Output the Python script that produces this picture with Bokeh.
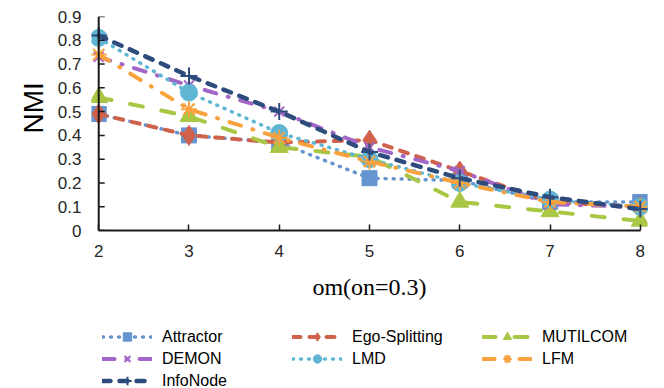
from bokeh.plotting import figure
from bokeh.layouts import column
from bokeh.models import Range1d, Legend, LegendItem, Title, FixedTicker, Span
from bokeh.embed import file_html
from bokeh.resources import INLINE

om = [2, 3, 4, 5, 6, 7, 8]
attractor = [0.49, 0.40, 0.37, 0.22, 0.21, 0.12, 0.12]
ego_splitting = [0.49, 0.40, 0.37, 0.38, 0.25, 0.12, 0.10]
mutilcom = [0.56, 0.48, 0.35, 0.31, 0.12, 0.08, 0.04]
demon = [0.73, 0.61, 0.50, 0.35, 0.25, 0.11, 0.10]
lmd = [0.81, 0.58, 0.41, 0.30, 0.20, 0.13, 0.10]
lfm = [0.74, 0.51, 0.39, 0.29, 0.20, 0.12, 0.10]
infonode = [0.82, 0.65, 0.50, 0.33, 0.22, 0.14, 0.09]

y_ticks = [0, 0.1, 0.2, 0.3, 0.4, 0.5, 0.6, 0.7, 0.8, 0.9]
x_ticks = [2, 3, 4, 5, 6, 7, 8]

series = [
    ("Attractor", attractor, "#6694D0", "1 7", 3.5, "square", 15),
    ("Ego-Splitting", ego_splitting, "#D0624B", "8 9", 4, "diamond", 20),
    ("MUTILCOM", mutilcom, "#A9C645", "13 19", 4, "triangle", 18),
    ("DEMON", demon, "#A266C8", "12 12 1 12", 4, "x", 14),
    ("LMD", lmd, "#5FB6D3", "1 7", 3.5, "circle", 17),
    ("LFM", lfm, "#F9A23D", "12 12 1 12", 4, "asterisk", 16),
    ("InfoNode", infonode, "#2E4B7D", "8 9", 4.5, "cross", 17),
]

AX = "#1a1a1a"

p = figure(width=664, height=320, x_range=Range1d(1.92, 8.08), y_range=Range1d(0, 0.9),
           output_backend="svg", toolbar_location=None,
           min_border_left=91, min_border_right=17, min_border_top=16, min_border_bottom=90)
p.outline_line_color = None
p.xgrid.visible = False
p.ygrid.visible = False

# legend-only figure below the chart (its glyphs are kept out of view)
q = figure(width=664, height=68, output_backend="svg", toolbar_location=None,
           x_range=Range1d(-10, -9), y_range=Range1d(-10, -9),
           x_axis_location=None, y_axis_location=None,
           min_border_left=0, min_border_right=0, min_border_top=0, min_border_bottom=0)
q.outline_line_color = None
q.xgrid.visible = False
q.ygrid.visible = False


def draw(fig, vals, color, dash, lw, marker, size):
    r1 = fig.line(om, vals, line_color=color, line_width=lw, line_dash=dash, line_cap="round")
    if marker in ("x", "asterisk", "cross"):
        r2 = fig.scatter(om, vals, marker=marker, size=size, line_color=color, line_width=2,
                         fill_color=None)
    else:
        r2 = fig.scatter(om, vals, marker=marker, size=size, fill_color=color, line_color=color)
    return r1, r2


items = []
for name, vals, color, dash, lw, marker, size in series:
    draw(p, vals, color, dash, lw, marker, size)
    l1, l2 = draw(q, vals, color, dash, lw, marker, size)
    items.append(LegendItem(label=name, renderers=[l1, l2]))

# axes
p.xaxis.ticker = FixedTicker(ticks=x_ticks)
p.yaxis.ticker = FixedTicker(ticks=y_ticks)
p.xaxis.bounds = (2, 8)
p.xaxis.axis_line_color = AX
p.xaxis.axis_line_width = 2
p.xaxis.major_tick_line_color = AX
p.xaxis.major_tick_line_width = 1.5
p.xaxis.major_tick_in = 6
p.xaxis.major_tick_out = 0
p.yaxis.axis_line_color = None
p.yaxis.major_tick_line_color = None
p.yaxis.major_tick_in = 0
p.yaxis.major_tick_out = 0
for ax in (p.xaxis, p.yaxis):
    ax.minor_tick_line_color = None
    ax.major_label_text_font = "Liberation Sans"
    ax.major_label_text_font_size = "17px"
    ax.major_label_text_color = "#262626"
p.xaxis.major_label_standoff = 14
p.yaxis.major_label_standoff = 10
p.xaxis.major_label_overrides = {t: str(t) for t in x_ticks}
p.yaxis.major_label_overrides = {t: ("0" if t == 0 else f"{t:.1f}") for t in y_ticks}

# y axis line at om = 2 and its inward ticks
p.add_layout(Span(location=2, dimension="height", line_color=AX, line_width=2))
p.segment(x0=[2] * len(y_ticks), y0=y_ticks, x1=[2 + 6 / 90.3] * len(y_ticks), y1=y_ticks,
          line_color=AX, line_width=1.5)

p.xaxis.axis_label = "om(on=0.3)"
p.xaxis.axis_label_text_font = "Liberation Serif"
p.xaxis.axis_label_text_font_size = "24px"
p.xaxis.axis_label_text_font_style = "normal"
p.xaxis.axis_label_text_color = "#000000"
p.xaxis.axis_label_standoff = 14

p.add_layout(Title(text="NMI", align="left", offset=97, standoff=12,
                   text_font="Liberation Sans", text_font_size="28px",
                   text_font_style="normal", text_color="#000000"), "left")

legend = Legend(items=items, location=(11, -3), ncols=3, orientation="horizontal",
                glyph_width=50, glyph_height=21, label_height=21, label_width=129,
                label_standoff=10, spacing=1, padding=0, margin=0,
                label_text_font="Liberation Sans", label_text_font_size="16px",
                label_text_color="#000000", border_line_color=None,
                background_fill_alpha=0)
q.add_layout(legend)

layout = column(p, q, spacing=0)
open("out.html", "w").write(file_html(layout, INLINE))
